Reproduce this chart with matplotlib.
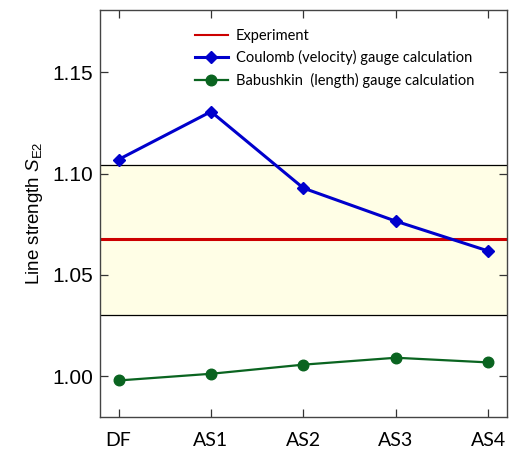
import numpy as np
import matplotlib.pyplot as plt

# values
methods = ['DF', 'AS1', 'AS2', 'AS3', 'AS4']
coulomb = [1.1069, 1.1305, 1.0928, 1.0765, 1.0618]
babushkin = [0.998, 1.0013, 1.0058, 1.0092, 1.0069]
experiment = 1.0677
exp_low = 1.0301
exp_high = 1.1044

plt.rcParams['mathtext.fontset'] = 'custom'
plt.rcParams['mathtext.rm'] = 'Liberation Sans'
plt.rcParams['mathtext.it'] = 'Liberation Sans:italic'

fig = plt.figure(figsize=(5.13, 4.51), dpi=100)
ax = fig.add_axes([0.195, 0.0754, 0.793, 0.902])

x = np.arange(len(methods))

ax.axhspan(exp_low, exp_high, color='#fffee6', zorder=0)
ax.axhline(exp_low, color='black', lw=0.9, zorder=1)
ax.axhline(exp_high, color='black', lw=0.9, zorder=1)
ax.axhline(experiment, color='#cc0000', lw=2.2, zorder=2, label='Experiment')

ax.plot(x, coulomb, color='#0000cc', lw=2.2, marker='D', ms=6.6,
        label='Coulomb (velocity) gauge calculation', zorder=3)
ax.plot(x, babushkin, color='#0a6420', lw=1.6, marker='o', ms=7.6,
        label='Babushkin  (length) gauge calculation', zorder=3)

ax.set_xlim(-0.2, 4.2)
ax.set_ylim(0.98, 1.1805)
ax.set_xticks(x)
ax.set_xticklabels(methods, fontfamily='Lato', fontsize=14)
ax.set_yticks([1.00, 1.05, 1.10, 1.15])
ax.set_yticklabels(['1.00', '1.05', '1.10', '1.15'], fontfamily='Liberation Sans', fontsize=15)
ax.tick_params(direction='in', top=True, right=True, length=6, width=0.9, color='#333333')
ax.tick_params(axis='x', pad=11)
ax.tick_params(axis='y', pad=5)
for s in ax.spines.values():
    s.set_color('#444444')
    s.set_linewidth(1.0)

ax.set_ylabel('Line strength $S_{\\mathrm{E2}}$', fontfamily='Liberation Sans', fontsize=13.5, labelpad=5)

leg = ax.legend(loc='upper left', bbox_to_anchor=(0.2, 0.986), frameon=False,
                prop={'family': 'Lato', 'size': 10.5}, handlelength=2.3,
                handletextpad=0.55, labelspacing=0.5)
leg.get_lines()[0].set_linewidth(1.5)

fig.savefig('out.png', dpi=100)
